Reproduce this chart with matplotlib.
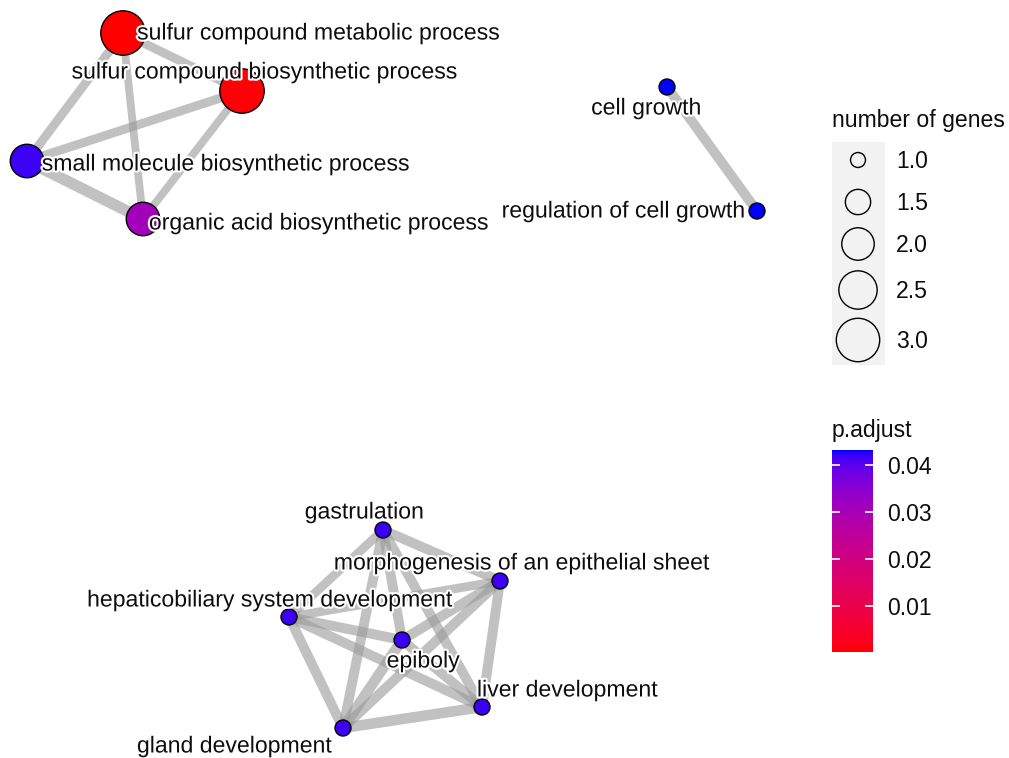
import numpy as np
import matplotlib
matplotlib.use("Agg")
import matplotlib.pyplot as plt
import matplotlib.patheffects as pe
from matplotlib.colors import ListedColormap, Normalize
from matplotlib.cm import ScalarMappable
from matplotlib.patches import Rectangle

plt.rcParams['font.family'] = ['Liberation Sans', 'DejaVu Sans']

# enriched GO terms
terms = ['sulfur compound metabolic process', 'sulfur compound biosynthetic process',
         'small molecule biosynthetic process', 'organic acid biosynthetic process',
         'cell growth', 'regulation of cell growth',
         'gastrulation', 'morphogenesis of an epithelial sheet',
         'hepaticobiliary system development', 'epiboly',
         'liver development', 'gland development']
n_genes = [3, 3, 2, 2, 1, 1, 1, 1, 1, 1, 1, 1]
p_adjust = [0.00013, 0.0006, 0.0418, 0.031, 0.0432, 0.0432,
            0.0418, 0.0418, 0.0418, 0.0418, 0.0418, 0.0418]

# graph layout (x, y) and label anchor for each term
layout_x = [123, 242, 27, 143, 667, 757, 383, 500, 289, 402, 482, 343]
layout_y = [33, 91, 161, 219, 87, 211, 530, 581, 617, 640, 707, 728]
label_x = [318, 264, 225, 318, 646, 623, 364, 521, 269, 423, 567, 234]
label_y = [33, 72, 164, 223, 108, 211, 512, 563, 600, 661, 690, 746]

# term-term similarity edges
edges = [(0, 1, 0.55), (0, 2, 0.55), (0, 3, 0.4), (1, 2, 0.55), (1, 3, 0.4), (2, 3, 0.9),
         (4, 5, 0.7),
         (6, 7, 0.7), (6, 8, 0.55), (6, 9, 0.7), (6, 10, 0.7), (6, 11, 0.7),
         (7, 8, 0.55), (7, 9, 0.7), (7, 10, 0.7), (7, 11, 0.7),
         (8, 9, 0.7), (8, 10, 0.7), (8, 11, 0.7),
         (9, 10, 0.7), (9, 11, 0.8), (10, 11, 0.8)]

size_breaks = [1.0, 1.5, 2.0, 2.5, 3.0]
p_ticks = [0.01, 0.02, 0.03, 0.04]


def srgb_to_lab(rgb):
    c = np.asarray(rgb, float)
    lin = np.where(c <= 0.04045, c / 12.92, ((c + 0.055) / 1.055) ** 2.4)
    m = np.array([[0.4124, 0.3576, 0.1805],
                  [0.2126, 0.7152, 0.0722],
                  [0.0193, 0.1192, 0.9505]])
    xyz = m @ lin / np.array([0.95047, 1.0, 1.08883])
    f = np.where(xyz > 0.008856, np.cbrt(xyz), 7.787 * xyz + 16 / 116)
    return np.array([116 * f[1] - 16, 500 * (f[0] - f[1]), 200 * (f[1] - f[2])])


def lab_to_srgb(lab):
    L, a, b = lab
    fy = (L + 16) / 116
    fx = fy + a / 500
    fz = fy - b / 200
    f = np.array([fx, fy, fz])
    xyz = np.where(f ** 3 > 0.008856, f ** 3, (f - 16 / 116) / 7.787)
    xyz = xyz * np.array([0.95047, 1.0, 1.08883])
    m = np.array([[3.2406, -1.5372, -0.4986],
                  [-0.9689, 1.8758, 0.0415],
                  [0.0557, -0.2040, 1.0570]])
    lin = m @ xyz
    lin = np.clip(lin, 0, 1)
    c = np.where(lin <= 0.0031308, 12.92 * lin, 1.055 * lin ** (1 / 2.4) - 0.055)
    return np.clip(c, 0, 1)


# red -> blue gradient interpolated in Lab space
lab_lo = srgb_to_lab([1, 0, 0])
lab_hi = srgb_to_lab([0, 0, 1])
ramp = [lab_to_srgb(lab_lo + t * (lab_hi - lab_lo)) for t in np.linspace(0, 1, 256)]
cmap = ListedColormap(ramp)
norm = Normalize(vmin=min(p_adjust), vmax=max(p_adjust))

PX = 0.72  # points per pixel at dpi 100


def radius_px(n):
    # size scale: area grows linearly with gene count
    return np.sqrt(56 + 207.5 * (n - 1))


fig = plt.figure(figsize=(10.09, 7.58), dpi=100)
ax = fig.add_axes([0, 0, 1, 1])
ax.set_xlim(0, 1009)
ax.set_ylim(758, 0)
ax.axis('off')

for i, j, sim in edges:
    ax.plot([layout_x[i], layout_x[j]], [layout_y[i], layout_y[j]],
            color='#999999', alpha=0.6, lw=(5 + 7 * sim) * PX,
            solid_capstyle='butt', zorder=1)

sizes = [(2 * (radius_px(n) + 0.5) * PX) ** 2 for n in n_genes]
ax.scatter(layout_x, layout_y, s=sizes, c=p_adjust, cmap=cmap, norm=norm,
           edgecolors='black', linewidths=1.0, zorder=2)

halo = [pe.withStroke(linewidth=3, foreground='white')]
for name, x, y in zip(terms, label_x, label_y):
    ax.text(x, y, name, ha='center', va='center', fontsize=16.6,
            color='#0d0d0d', path_effects=halo, zorder=3)

# size legend
ax.text(832, 121, 'number of genes', ha='left', va='center', fontsize=16.6, color='#0d0d0d')
ax.add_patch(Rectangle((832, 142), 53, 223, facecolor='#f2f2f2', edgecolor='none', zorder=1))
key_y = [160, 202, 244, 290, 340]
for n, ky in zip(size_breaks, key_y):
    r = radius_px(n)
    ax.scatter([858], [ky], s=(2 * r * PX) ** 2, facecolors='none',
               edgecolors='black', linewidths=1.0, zorder=2)
    ax.text(896, ky + 1, f'{n:.1f}', ha='left', va='center', fontsize=16.6, color='#0d0d0d')

# colour bar for p.adjust
ax.text(832, 431, 'p.adjust', ha='left', va='center', fontsize=16.6, color='#0d0d0d')
cax = fig.add_axes([832 / 1009, (758 - 652) / 758, 41 / 1009, 202 / 758])
cb = fig.colorbar(ScalarMappable(norm=norm, cmap=cmap), cax=cax)
cb.outline.set_visible(False)
cb.set_ticks(p_ticks)
cb.set_ticklabels([f'{t:.2f}' for t in p_ticks])
cax.yaxis.set_ticks_position('both')
cax.tick_params(axis='y', direction='in', length=6, width=1.2, color='white',
                labelsize=16.6, labelcolor='#0d0d0d', pad=10,
                left=True, right=True, labelleft=False, labelright=True)

fig.savefig('out.png', dpi=100)
